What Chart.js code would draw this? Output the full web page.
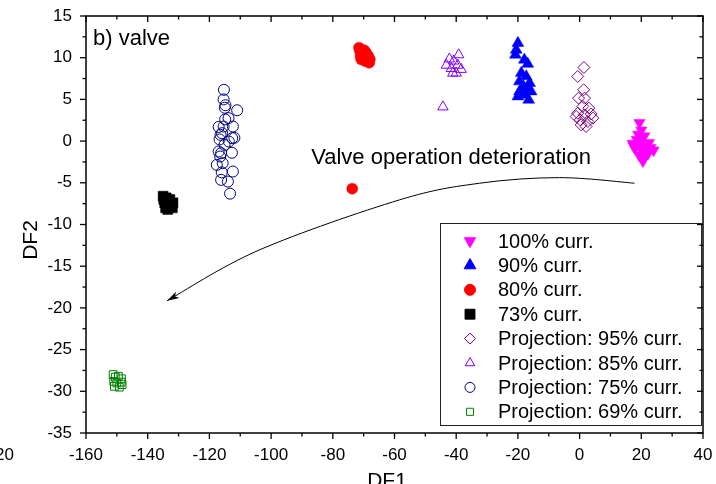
<!DOCTYPE html>
<html lang="en">
<head>
<meta charset="UTF-8">
<title>b) valve</title>
<script src="https://cdn.jsdelivr.net/npm/chart.js"></script>
<style>
  html, body { margin: 0; padding: 0; background: #fff; }
  #wrap { width: 716px; height: 484px; }
</style>
</head>
<body>
<div id="wrap"><canvas id="grafico" width="716" height="484"></canvas></div>
<script>
// values, [DF1, DF2]
const curr100 = [[19.4,2.2],[20.0,1.3],[19.0,0.8],[21.0,0.6],[18.5,0.2],[22.5,-0.2],[19.5,-0.2],[17.2,-0.3],
  [21.5,-0.6],[17.5,-0.6],[23.0,-0.8],[18.0,-0.9],[20.8,-0.9],[24.0,-1.1],[20.3,-1.2],[22.2,-1.5],
  [19.3,-1.7],[21.0,-2.0],[20.5,-2.4],[20.0,0.2],[21.8,-1.0]];
const curr90 = [[-20.0,11.75],[-20.55,10.95],[-20.8,10.35],[-17.9,9.75],[-16.8,9.25],[-18.9,8.16],[-17.3,7.75],
  [-19.5,7.15],[-16.2,6.95],[-18.2,6.55],[-19.5,5.95],[-15.7,5.95],[-17.9,5.55],[-20.0,5.35],[-16.5,4.95],
  [-18.5,6.2],[-17.0,6.4]];
const curr80 = [[-71.5,11.2],[-71.2,10.8],[-69.8,10.9],[-70.5,10.5],[-71.0,10.2],[-70.0,10.0],[-69.2,10.6],
  [-68.5,10.2],[-68.0,9.8],[-69.5,9.6],[-68.2,9.4],[-70.8,9.8],[-73.7,-5.7]];
const curr73 = [[-135.0,-6.6],[-134.0,-6.8],[-134.8,-7.0],[-132.8,-7.0],[-134.5,-7.4],[-133.8,-7.2],[-131.8,-7.4],
  [-133.2,-7.6],[-132.5,-7.8],[-134.2,-8.0],[-132.0,-8.0],[-133.5,-8.2]];
const proj95 = [[1.4,8.83],[-0.6,7.75],[1.3,6.15],[-0.35,5.15],[1.6,5.15],[1.05,4.15],[3.0,3.95],[-0.6,3.35],
  [3.75,3.25],[1.6,3.15],[-1.1,2.95],[4.3,2.75],[0.2,2.55],[2.65,2.35],[0.5,1.95],[2.1,1.75]];
const proj85 = [[-39.2,10.35],[-42.2,9.85],[-40.8,9.6],[-43.2,9.1],[-39.5,9.1],[-41.6,8.7],[-38.4,8.6],
  [-40.0,8.15],[-41.1,8.15],[-44.3,4.1]];
const proj75 = [[-115.3,6.15],[-115.4,5.0],[-114.8,4.3],[-115.0,4.0],[-111.0,3.7],[-114.9,2.6],[-113.8,2.75],
  [-117.0,1.7],[-115.4,1.75],[-112.4,1.75],[-116.4,0.75],[-115.9,0.95],[-111.9,0.4],[-112.6,0.35],
  [-116.7,0.2],[-115.1,-0.45],[-113.7,-0.05],[-117.0,-1.25],[-116.2,-1.45],[-112.7,-1.4],[-116.5,-1.85],
  [-117.6,-2.85],[-115.7,-2.65],[-112.4,-3.65],[-116.0,-3.75],[-116.2,-4.65],[-114.0,-4.85],[-113.3,-6.3]];
const proj69 = [[-151.2,-28.0],[-150.5,-28.3],[-149.5,-28.2],[-148.5,-28.5],[-151.0,-28.8],[-150.0,-29.0],
  [-148.3,-29.2],[-149.2,-29.5],[-150.8,-29.4],[-148.6,-28.9]];

const seriesLabels = ['100% curr.', '90% curr.', '80% curr.', '73% curr.',
  'Projection: 95% curr.', 'Projection: 85% curr.', 'Projection: 75% curr.', 'Projection: 69% curr.'];

const xTicks = [-160, -140, -120, -100, -80, -60, -40, -20, 0, 20, 40];
const yTicks = [-35, -30, -25, -20, -15, -10, -5, 0, 5, 10, 15];

// arrow path (DF1, DF2) for the "deterioration" annotation
const arrowPath = [[17.8,-5.05],[-6.5,-4.38],[-32.4,-5.05],[-58.4,-7.05],[-103.8,-13.05],[-133.7,-19.14]];

const FONT = "'Liberation Sans', Arial, sans-serif";

const series = [
  { data: curr100, color: '#FF00FF', style: 'triangle', rot: 180, r: 6.5, fill: true },
  { data: curr90,  color: '#0000FF', style: 'triangle', rot: 0,   r: 6.8, fill: true },
  { data: curr80,  color: '#FF0000', style: 'circle',   rot: 0,   r: 5.5, fill: true },
  { data: curr73,  color: '#000000', style: 'rect',     rot: 0,   r: 7,   fill: true },
  { data: proj95,  color: '#800080', style: 'rectRot',  rot: 0,   r: 6,   fill: false },
  { data: proj85,  color: '#8000FF', style: 'triangle', rot: 0,   r: 6,   fill: false },
  { data: proj75,  color: '#000080', style: 'circle',   rot: 0,   r: 5.5, fill: false },
  { data: proj69,  color: '#008000', style: 'rect',     rot: 0,   r: 5.5, fill: false }
];

const datasets = series.map((s, i) => ({
  label: seriesLabels[i],
  data: s.data.map(p => ({ x: p[0], y: p[1] })),
  pointStyle: s.style,
  rotation: s.rot,
  pointRadius: s.r,
  pointBackgroundColor: s.fill ? s.color : 'rgba(0,0,0,0)',
  pointBorderColor: s.color,
  pointBorderWidth: s.fill ? 0.5 : 1,
  showLine: false
}));

function line(ctx, x1, y1, x2, y2) {
  ctx.beginPath(); ctx.moveTo(x1, y1); ctx.lineTo(x2, y2); ctx.stroke();
}

const decor = {
  id: 'decor',
  afterDraw(chart) {
    const ctx = chart.ctx, a = chart.chartArea;
    const xs = chart.scales.x, ys = chart.scales.y;
    ctx.save();

    // legend box (drawn first so the frame ticks sit on top of it)
    const bx = a.right - 263, by = a.bottom - 210, bw = 262, bh = 203;
    ctx.fillStyle = '#fff';
    ctx.fillRect(bx, by, bw, bh);
    ctx.strokeStyle = '#222';
    ctx.lineWidth = 1;
    ctx.strokeRect(bx + 0.5, by + 0.5, bw - 1, bh - 1);
    ctx.font = '20px ' + FONT;
    ctx.textAlign = 'left';
    ctx.textBaseline = 'middle';
    series.forEach((s, i) => {
      const yy = by + 18 + i * 24.4;
      ctx.fillStyle = s.fill ? s.color : 'rgba(0,0,0,0)';
      ctx.strokeStyle = s.color;
      Chart.helpers.drawPoint(ctx, {
        pointStyle: s.style, rotation: s.rot, radius: s.fill ? s.r : s.r - 0.5,
        borderWidth: s.fill ? 0.5 : 1
      }, bx + 30, yy);
      ctx.fillStyle = '#000';
      ctx.fillText(seriesLabels[i], bx + 58, yy + 1);
    });

    // frame
    ctx.strokeStyle = '#000';
    ctx.lineWidth = 1.5;
    ctx.strokeRect(a.left, a.top, a.right - a.left, a.bottom - a.top);

    // major + minor ticks
    ctx.lineWidth = 1.3;
    for (let v = xTicks[0]; v <= xTicks[xTicks.length - 1]; v += 10) {
      const px = xs.getPixelForValue(v);
      const len = v % 20 === 0 ? 6 : 3.5;
      line(ctx, px, a.bottom, px, a.bottom + len);
      line(ctx, px, a.top, px, a.top + len);
    }
    for (let v = yTicks[0]; v <= yTicks[yTicks.length - 1]; v += 2.5) {
      const py = ys.getPixelForValue(v);
      const len = v % 5 === 0 ? 6 : 3.5;
      line(ctx, a.left - len, py, a.left, py);
      line(ctx, a.right - len, py, a.right, py);
    }

    // axis titles
    ctx.fillStyle = '#000';
    ctx.font = '21px ' + FONT;
    ctx.textAlign = 'center';
    ctx.textBaseline = 'alphabetic';
    ctx.fillText('DF1', 387, 487);
    ctx.save();
    ctx.translate(37, 240);
    ctx.rotate(-Math.PI / 2);
    ctx.fillText('DF2', 0, 0);
    ctx.restore();

    // stray label from the neighbouring panel
    ctx.font = '17px ' + FONT;
    ctx.textAlign = 'right';
    ctx.textBaseline = 'middle';
    ctx.fillText('20', 14, 455);

    // panel title and annotation
    ctx.font = '22px ' + FONT;
    ctx.textAlign = 'left';
    ctx.textBaseline = 'alphabetic';
    ctx.fillText('b) valve', a.left + 7, a.top + 29);
    ctx.fillText('Valve operation deterioration', xs.getPixelForValue(-87), ys.getPixelForValue(-2.73));

    // curved arrow
    const pts = arrowPath.map(p => [xs.getPixelForValue(p[0]), ys.getPixelForValue(p[1])]);
    ctx.strokeStyle = '#000';
    ctx.lineWidth = 1;
    ctx.beginPath();
    ctx.moveTo(pts[0][0], pts[0][1]);
    for (let i = 0; i < pts.length - 1; i++) {
      const p0 = pts[i - 1] || pts[i], p1 = pts[i], p2 = pts[i + 1], p3 = pts[i + 2] || p2;
      ctx.bezierCurveTo(p1[0] + (p2[0] - p0[0]) / 6, p1[1] + (p2[1] - p0[1]) / 6,
                        p2[0] - (p3[0] - p1[0]) / 6, p2[1] - (p3[1] - p1[1]) / 6,
                        p2[0], p2[1]);
    }
    ctx.stroke();
    const tip = pts[pts.length - 1], prev = pts[pts.length - 2];
    const ang = Math.atan2(tip[1] - prev[1], tip[0] - prev[0]);
    ctx.fillStyle = '#000';
    ctx.beginPath();
    ctx.moveTo(tip[0], tip[1]);
    ctx.lineTo(tip[0] - 12 * Math.cos(ang) + 3.5 * Math.sin(ang), tip[1] - 12 * Math.sin(ang) - 3.5 * Math.cos(ang));
    ctx.lineTo(tip[0] - 9 * Math.cos(ang), tip[1] - 9 * Math.sin(ang));
    ctx.lineTo(tip[0] - 12 * Math.cos(ang) - 3.5 * Math.sin(ang), tip[1] - 12 * Math.sin(ang) + 3.5 * Math.cos(ang));
    ctx.closePath();
    ctx.fill();

    ctx.restore();
  }
};

const chart = new Chart(document.getElementById('grafico').getContext('2d'), {
  type: 'scatter',
  data: { datasets },
  options: {
    responsive: false,
    animation: false,
    devicePixelRatio: 1,
    layout: { padding: { top: 16, right: 13, left: 0, bottom: 0 } },
    plugins: { legend: { display: false }, tooltip: { enabled: false } },
    scales: {
      x: {
        type: 'linear', min: -160, max: 40,
        grid: { display: false, drawTicks: false },
        border: { display: false },
        afterBuildTicks: s => { s.ticks = xTicks.map(v => ({ value: v })); },
        afterFit: s => { s.height = 51; s.paddingLeft = 0; s.paddingRight = 0; },
        ticks: { autoSkip: false, maxRotation: 0, padding: 12, color: '#000', font: { family: FONT, size: 17 } }
      },
      y: {
        type: 'linear', min: -35, max: 15,
        grid: { display: false, drawTicks: false },
        border: { display: false },
        afterBuildTicks: s => { s.ticks = yTicks.map(v => ({ value: v })); },
        afterFit: s => { s.width = 86; s.paddingTop = 0; s.paddingBottom = 0; },
        ticks: { autoSkip: false, padding: 14, color: '#000', font: { family: FONT, size: 17 } }
      }
    }
  },
  plugins: [decor]
});
</script>
</body>
</html>
